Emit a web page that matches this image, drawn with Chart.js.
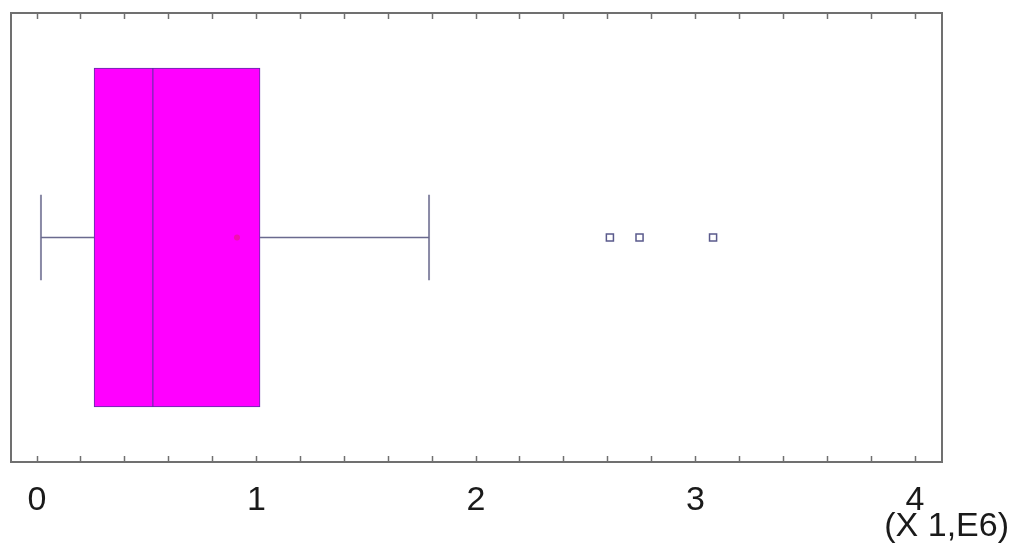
<!DOCTYPE html>
<html>
<head>
<meta charset="utf-8">
<script src="https://cdn.jsdelivr.net/npm/chart.js@4.4.1/dist/chart.umd.min.js"></script>
<style>
  html, body { margin: 0; padding: 0; background: #fff; }
  #wrap { width: 1009px; height: 547px; position: relative; }
</style>
</head>
<body>
<div id="wrap"><canvas id="chartBox"></canvas></div>
<script>
// Dados (valores em milhões)
const axisTicks = [0, 1, 2, 3, 4];
const fiveNumber = [0.018, 0.26, 0.528, 1.016, 1.786]; // bigode inf, Q1, mediana, Q3, bigode sup
const meanValue = [0.911];
const outlierValues = [2.61, 2.745, 3.08];
const unitLabel = '(X 1,E6)';

// Layout (unidades do eixo y oculto, -1..1)
const BOX_HALF = 0.755;
const CAP_HALF = 0.19;

const [wLow, q1, med, q3, wHigh] = fiveNumber;
const axisColor = '#707070';
const fontFam = "'Liberation Sans', Arial, sans-serif";

const ctx = document.getElementById('chartBox').getContext('2d');

new Chart(ctx, {
    type: 'scatter',
    data: {
        datasets: [
            {
                // outliers
                type: 'scatter',
                data: outlierValues.map(v => ({ x: v, y: 0 })),
                pointStyle: 'rect',
                pointRadius: 5,
                backgroundColor: '#ffffff',
                borderColor: '#5a5a8c',
                borderWidth: 1.5
            },
            {
                // média
                type: 'scatter',
                data: meanValue.map(v => ({ x: v, y: 0 })),
                pointRadius: 3,
                backgroundColor: 'rgba(225, 30, 110, 0.55)',
                borderWidth: 0
            },
            {
                // mediana
                type: 'line',
                data: [{ x: med, y: -BOX_HALF }, { x: med, y: BOX_HALF }],
                borderColor: '#52309e',
                borderWidth: 1,
                pointRadius: 0
            },
            {
                // bigodes
                type: 'line',
                data: [
                    { x: wLow, y: 0 }, { x: q1, y: 0 }, { x: null, y: null },
                    { x: q3, y: 0 }, { x: wHigh, y: 0 }
                ],
                borderColor: '#6a6a8e',
                borderWidth: 1.5,
                pointRadius: 0,
                spanGaps: false
            },
            {
                // extremidades
                type: 'line',
                data: [
                    { x: wLow, y: -CAP_HALF }, { x: wLow, y: CAP_HALF }, { x: null, y: null },
                    { x: wHigh, y: -CAP_HALF }, { x: wHigh, y: CAP_HALF }
                ],
                borderColor: '#8a8aa6',
                borderWidth: 2,
                pointRadius: 0,
                spanGaps: false
            },
            {
                // caixa Q1-Q3
                type: 'bar',
                indexAxis: 'y',
                data: [{ x: [q1, q3], y: 0 }],
                backgroundColor: '#ff00ff',
                borderColor: '#5a2fa6',
                borderWidth: 1,
                borderSkipped: false,
                barThickness: 339,
                grouped: false
            }
        ]
    },
    options: {
        responsive: true,
        maintainAspectRatio: false,
        animation: false,
        layout: { padding: 0 },
        plugins: {
            legend: { display: false },
            tooltip: { enabled: false },
            title: {
                display: true,
                position: 'bottom',
                align: 'end',
                text: unitLabel,
                color: '#1a1a1a',
                font: { family: fontFam, size: 34, weight: 'normal' },
                padding: { top: -30, bottom: 0 }
            }
        },
        scales: {
            x: {
                type: 'linear',
                position: 'bottom',
                min: -0.1185,
                max: 4.123,
                beginAtZero: false,
                afterFit: s => { s.height = 74.2; },
                border: { display: true, color: axisColor, width: 2 },
                grid: {
                    display: true,
                    drawOnChartArea: false,
                    drawTicks: true,
                    tickLength: -6,
                    tickColor: axisColor,
                    tickWidth: 1.5
                },
                ticks: {
                    stepSize: 0.2,
                    maxTicksLimit: 100,
                    includeBounds: false,
                    autoSkip: false,
                    maxRotation: 0,
                    padding: 24.5,
                    color: '#1a1a1a',
                    font: { family: fontFam, size: 34 },
                    callback: v => {
                        const r = Math.round(v);
                        return (Math.abs(v - r) < 1e-6 && axisTicks.includes(r)) ? String(r) : '';
                    }
                }
            },
            xTop: {
                type: 'linear',
                position: 'top',
                min: -0.1185,
                max: 4.123,
                afterFit: s => { s.height = 13; },
                border: { display: true, color: axisColor, width: 2 },
                grid: {
                    display: true,
                    drawOnChartArea: false,
                    drawTicks: true,
                    tickLength: -6,
                    tickColor: axisColor,
                    tickWidth: 1.5
                },
                ticks: {
                    display: false,
                    stepSize: 0.2,
                    maxTicksLimit: 100,
                    includeBounds: false
                }
            },
            y: {
                type: 'linear',
                position: 'left',
                min: -1,
                max: 1,
                offset: false,
                afterFit: s => { s.width = 11; },
                border: { display: true, color: axisColor, width: 2 },
                grid: { display: false, drawTicks: false, offset: false },
                ticks: { display: false }
            },
            yRight: {
                type: 'linear',
                position: 'right',
                min: -1,
                max: 1,
                offset: false,
                afterFit: s => { s.width = 67; },
                border: { display: true, color: axisColor, width: 2 },
                grid: { display: false, drawTicks: false },
                ticks: { display: false }
            }
        }
    }
});
</script>
</body>
</html>
